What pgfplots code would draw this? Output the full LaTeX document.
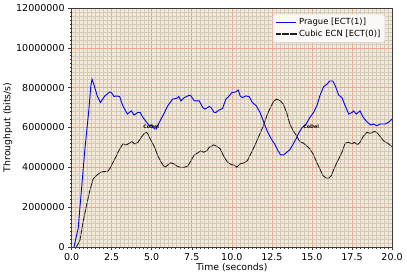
\documentclass[border=0pt]{standalone}
\usepackage{fontspec}
\setmainfont{DejaVu Sans}
\usepackage{pgfplots}
\pgfplotsset{compat=1.18}
\definecolor{bgc}{RGB}{243,233,216}
\definecolor{majg}{RGB}{240,165,145}
\definecolor{ming}{RGB}{212,202,186}
\definecolor{spine}{RGB}{60,60,60}
\definecolor{legbg}{RGB}{251,249,246}
\definecolor{legedge}{RGB}{210,210,210}
\begin{document}
\begin{tikzpicture}
\begin{axis}[
  at={(0,0)}, anchor=south west,
  scale only axis, width=322bp, height=240bp,
  xmin=0, xmax=20, ymin=0, ymax=12000000,
  axis background/.style={fill=bgc},
  axis line style={spine, line width=0.6pt},
  xtick={0,2.5,...,20}, ytick={0,2000000,...,12000000},
  minor x tick num=9, minor y tick num=9,
  tick align=outside, tick pos=left,
  major tick length=3.5bp, minor tick length=2bp,
  tick style={spine, line width=0.5pt},
  grid=both,
  major grid style={majg, line width=0.55pt},
  minor grid style={ming, line width=0.3pt},
  scaled y ticks=false, scaled x ticks=false,
  xticklabel style={/pgf/number format/.cd, fixed, fixed zerofill, precision=1, assume math mode=true},
  yticklabel style={/pgf/number format/.cd, fixed, 1000 sep={}, assume math mode=true},
  ticklabel style={font=\fontsize{9.6}{11}\selectfont},
  label style={font=\fontsize{9.4}{11}\selectfont},
  xlabel={Time (seconds)}, ylabel={Throughput (bits/s)},
  xlabel style={yshift=4bp}, ylabel style={yshift=-3bp},
  legend style={at={(0.978,0.975)}, anchor=north east, font=\fontsize{8.5}{10}\selectfont,
    fill=legbg, draw=legedge, rounded corners=2pt,
    inner sep=2.5pt, row sep=-0.5pt},
  legend image code/.code={\draw[#1, line width=1.3pt] (0cm,0cm) -- (0.72cm,0cm);},
  legend cell align=left,
  clip=true,
]
\addplot[color=blue, line width=0.9pt] coordinates {
(0.15,0) (0.41,0.92e6) (0.83,4.9e6) (1.08,6.9e6) (1.2,8.08e6) (1.28,8.42e6)
(1.45,8.0e6) (1.6,7.58e6) (1.8,7.25e6) (2.07,7.58e6) (2.38,7.78e6) (2.48,7.75e6)
(2.65,7.55e6) (2.8,7.58e6) (3.0,7.55e6) (3.2,7.08e6) (3.48,6.67e6) (3.73,6.83e6)
(3.9,6.62e6) (4.14,6.75e6) (4.28,6.75e6) (4.45,6.5e6) (4.72,6.22e6) (4.87,6.08e6)
(5.0,6.1e6) (5.18,5.92e6) (5.28,5.92e6) (5.42,6.17e6) (5.8,6.75e6) (6.0,7.08e6)
(6.3,7.42e6) (6.58,7.47e6) (6.69,7.55e6) (6.83,7.33e6) (7.0,7.48e6) (7.35,7.62e6)
(7.45,7.58e6) (7.66,7.33e6) (7.83,7.33e6) (7.97,7.33e6) (8.18,7.0e6) (8.32,6.92e6)
(8.6,7.05e6) (8.7,7.0e6) (8.9,6.75e6) (9.0,6.75e6) (9.2,6.87e6) (9.42,6.95e6)
(9.63,7.42e6) (9.8,7.55e6) (10.0,7.75e6) (10.25,7.78e6) (10.4,7.88e6) (10.52,7.58e6)
(10.66,7.5e6) (10.87,7.58e6) (11.08,7.55e6) (11.28,7.25e6) (11.53,7.08e6) (11.76,6.75e6)
(12.0,6.25e6) (12.2,5.83e6) (12.46,5.42e6) (12.67,5.17e6) (12.88,4.83e6) (13.04,4.62e6)
(13.25,4.62e6) (13.42,4.75e6) (13.62,4.88e6) (13.77,5.08e6) (14.0,5.42e6) (14.2,5.75e6)
(14.4,6.0e6) (14.6,6.12e6) (14.87,6.5e6) (15.1,6.75e6) (15.32,7.12e6) (15.49,7.58e6)
(15.73,8.05e6) (15.94,8.17e6) (16.1,8.33e6) (16.3,8.33e6) (16.46,8.08e6) (16.67,7.62e6)
(16.87,7.5e6) (17.08,7.08e6) (17.29,6.67e6) (17.5,6.75e6) (17.6,6.83e6) (17.76,6.67e6)
(18.0,6.83e6) (18.2,6.5e6) (18.43,6.28e6) (18.67,6.12e6) (18.84,6.17e6) (19.05,6.08e6)
(19.25,6.17e6) (19.57,6.17e6) (19.77,6.25e6) (20.0,6.42e6)
};
\addlegendentry{Prague [ECT(1)]}
\addplot[color=black!88, line width=0.9pt, dash pattern=on 5pt off 0.6pt on 0.6pt off 0.6pt] coordinates {
(0.31,0) (0.52,0.33e6) (0.72,1.25e6) (0.93,2.08e6) (1.14,2.83e6) (1.35,3.42e6)
(1.55,3.58e6) (1.76,3.72e6) (1.97,3.78e6) (2.24,3.78e6) (2.38,3.92e6) (2.59,4.25e6)
(2.8,4.58e6) (3.0,4.92e6) (3.21,5.17e6) (3.42,5.12e6) (3.62,5.22e6) (3.77,5.28e6)
(3.93,5.17e6) (4.14,5.25e6) (4.35,5.5e6) (4.51,5.67e6) (4.66,5.75e6) (4.76,5.67e6)
(4.97,5.33e6) (5.18,5.0e6) (5.38,4.58e6) (5.59,4.25e6) (5.8,4.0e6) (5.96,4.08e6)
(6.17,4.22e6) (6.38,4.17e6) (6.58,4.05e6) (6.79,4.0e6) (7.04,4.0e6) (7.25,4.05e6)
(7.45,4.33e6) (7.66,4.62e6) (7.87,4.72e6) (8.07,4.83e6) (8.24,4.75e6) (8.45,4.83e6)
(8.59,5.0e6) (8.86,5.12e6) (9.07,5.05e6) (9.28,4.92e6) (9.48,4.58e6) (9.73,4.25e6)
(9.98,4.12e6) (10.14,4.12e6) (10.31,4.0e6) (10.52,4.17e6) (10.77,4.22e6) (10.97,4.33e6)
(11.18,4.67e6) (11.43,5.08e6) (11.7,5.58e6) (11.97,6.08e6) (12.22,6.67e6) (12.46,7.08e6)
(12.63,7.33e6) (12.8,7.42e6) (13.04,7.33e6) (13.21,7.17e6) (13.42,6.75e6) (13.62,6.17e6)
(13.83,5.83e6) (14.04,5.58e6) (14.24,5.28e6) (14.45,5.22e6) (14.66,5.08e6) (14.87,4.92e6)
(15.07,4.67e6) (15.28,4.28e6) (15.49,3.92e6) (15.69,3.58e6) (15.9,3.45e6) (16.05,3.45e6)
(16.21,3.58e6) (16.42,4.0e6) (16.67,4.42e6) (16.87,4.75e6) (17.08,5.22e6) (17.29,5.25e6)
(17.5,5.17e6) (17.64,5.25e6) (17.85,5.13e6) (18.0,5.25e6) (18.2,5.55e6) (18.43,5.75e6)
(18.67,5.7e6) (18.88,5.8e6) (19.05,5.75e6) (19.25,5.55e6) (19.46,5.33e6) (19.7,5.22e6)
(20.0,5.03e6)
};
\addlegendentry{Cubic ECN [ECT(0)]}
\node[font=\bfseries\fontsize{4.8}{5}\selectfont, inner sep=0pt] at (axis cs:4.97,6.03e6) {CoDel};
\node[font=\bfseries\fontsize{4.8}{5}\selectfont, inner sep=0pt] at (axis cs:14.95,6.03e6) {CoDel};
\end{axis}
\path[use as bounding box] (-70bp,-30bp) rectangle (337bp,248bp);
\end{tikzpicture}
\end{document}
